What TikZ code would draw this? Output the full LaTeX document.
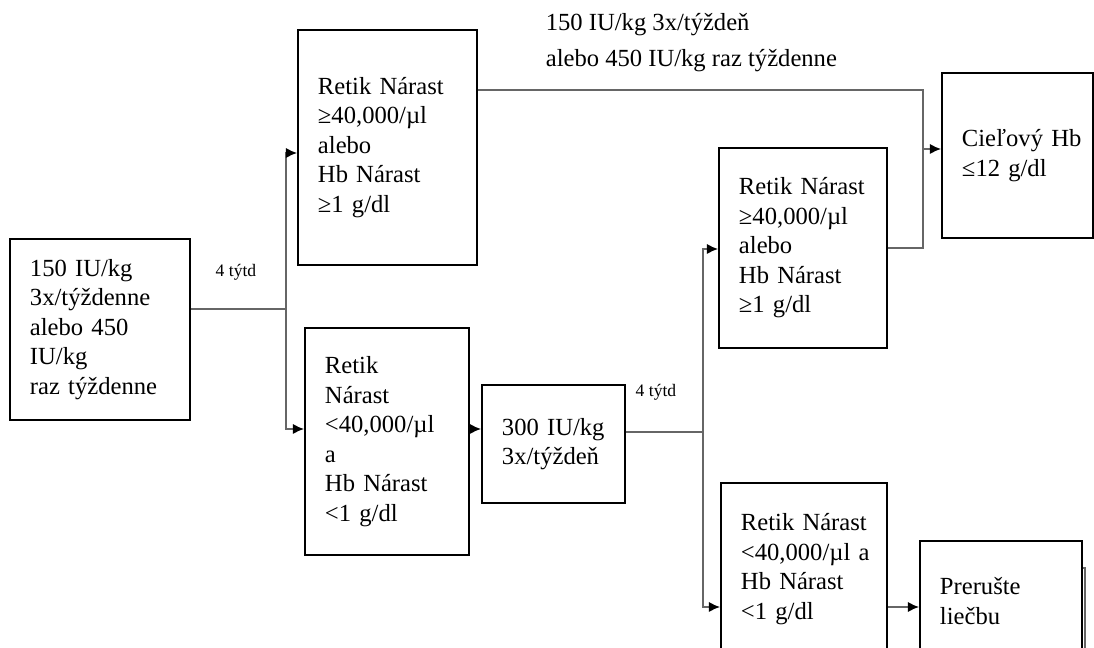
\documentclass[tikz,border=0pt]{standalone}
\usepackage{fontspec}
\setmainfont{Liberation Serif}
\usetikzlibrary{arrows.meta}

\begin{document}
\begin{tikzpicture}[x=0.025cm,y=-0.025cm,
  box/.style={draw,line width=1.2pt,inner xsep=0.5cm,inner ysep=0pt,align=left,font=\fontsize{17.5}{21}\selectfont},
  conn/.style={draw=black!60,line width=1.4pt},
  arr/.style={conn,-{Latex[length=0.28cm,width=0.26cm,color=black]}},
  lab/.style={font=\fontsize{12.5}{14}\selectfont,inner sep=0pt}]
\useasboundingbox (0,0) rectangle (1094,648);
\node[box,text width=3.5cm,minimum height=4.525cm] (start) at (100,329.5) {150 IU/kg\\3x/týždenne\\alebo 450\\IU/kg\\raz týždenne};
\node[box,text width=3.475cm,minimum height=5.875cm] (up1) at (387.5,147.5) {Retik Nárast\\≥40,000/µl\\alebo\\Hb Nárast\\≥1 g/dl};
\node[box,text width=3.1cm,minimum height=5.675cm] (low1) at (387,441.5) {Retik\\Nárast\\<40,000/µl\\a\\Hb Nárast\\<1 g/dl};
\node[box,text width=2.575cm,minimum height=2.95cm] (dose2) at (553.5,444) {300 IU/kg\\3x/týždeň};
\node[box,text width=3.2cm,minimum height=5cm] (up2) at (803,248) {Retik Nárast\\≥40,000/µl\\alebo\\Hb Nárast\\≥1 g/dl};
\node[box,text width=3.15cm,minimum height=4.3cm] (low2) at (804,569) {Retik Nárast\\<40,000/µl~a\\Hb Nárast\\<1 g/dl};
\node[box,text width=2.775cm,minimum height=4.125cm] (goal) at (1017.5,155.5) {Cieľový~Hb\\≤12 g/dl};
\node[box,text width=3.05cm,minimum height=3cm] (stop) at (1001,601) {Prerušte\\liečbu};
\node[box,draw=none,anchor=north west,inner xsep=0pt] (keep) at (545,13) {150 IU/kg 3x/týždeň\\[4pt]alebo 450 IU/kg raz týždenne};
\node[lab] (wk1) at (236,272) {4 týtd};
\node[lab] (wk2) at (656,392) {4 týtd};
% first fork
\coordinate (j1) at (286,309);
\coordinate (j1t) at (286,153);
\coordinate (j1b) at (286,429);
\draw[conn] (start.east |- j1) -- (j1);
\draw[arr] (j1) -- (j1t) -- (up1.west |- j1t);
\draw[arr] (j1) -- (j1b) -- (low1.west |- j1b);
\draw[arr] (low1.east |- j1b) -- (dose2.west |- j1b);
% second fork
\coordinate (j2) at (703,432);
\coordinate (j2t) at (703,249);
\coordinate (j2b) at (703,607);
\draw[conn] (dose2.east |- j2) -- (j2);
\draw[arr] (j2) -- (j2t) -- (up2.west |- j2t);
\draw[arr] (j2) -- (j2b) -- (low2.west |- j2b);
\draw[arr] (low2.east |- j2b) -- (stop.west |- j2b);
% join to goal
\coordinate (k1) at (923,90);
\coordinate (k2) at (923,248);
\coordinate (k3) at (923,149);
\draw[conn] (up1.east |- k1) -- (k1) -- (k2) -- (up2.east |- k2);
\draw[arr] (k3) -- (goal.west |- k3);
\coordinate (hx) at (1085,660);
\draw[conn,line width=0.8pt] (stop.east |- 0,568) -| (hx);
\end{tikzpicture}
\end{document}
